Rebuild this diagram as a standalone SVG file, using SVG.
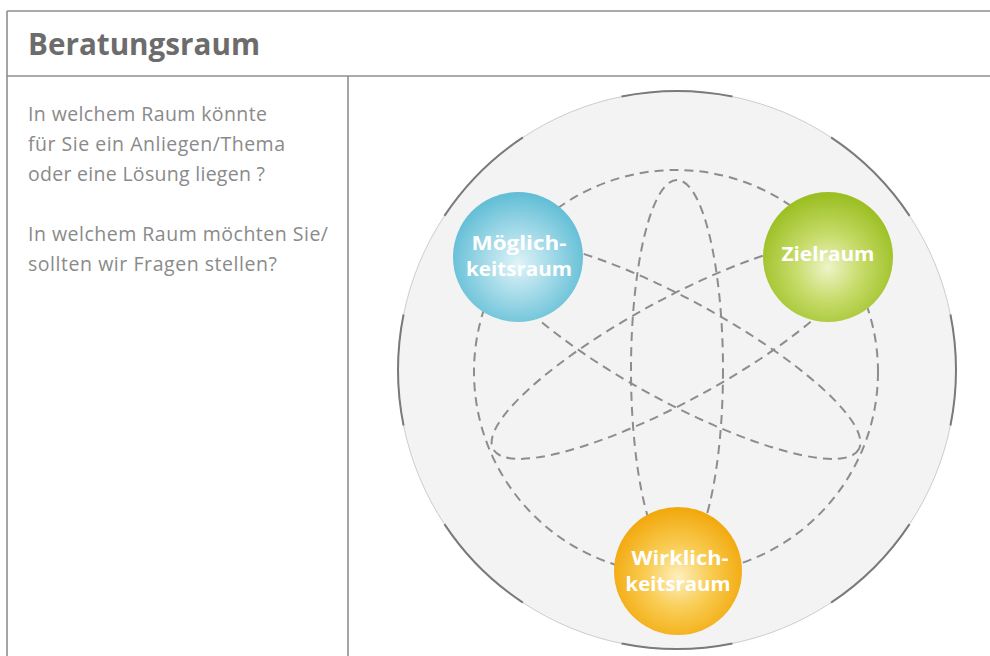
<svg xmlns="http://www.w3.org/2000/svg" width="990" height="656" viewBox="0 0 990 656">
  <defs>
    <radialGradient id="gBlue" cx="50%" cy="55%" r="55%">
      <stop offset="0" stop-color="#dff3f8"/>
      <stop offset="0.45" stop-color="#a6dbe9"/>
      <stop offset="1" stop-color="#5fbdd5"/>
    </radialGradient>
    <radialGradient id="gGreen" cx="50%" cy="58%" r="55%">
      <stop offset="0" stop-color="#eef4c8"/>
      <stop offset="0.45" stop-color="#c8dc6c"/>
      <stop offset="1" stop-color="#9cc024"/>
    </radialGradient>
    <radialGradient id="gOrange" cx="50%" cy="55%" r="55%">
      <stop offset="0" stop-color="#fdefc0"/>
      <stop offset="0.45" stop-color="#f9cd55"/>
      <stop offset="1" stop-color="#f2a70a"/>
    </radialGradient>
    <style>
      .frame { fill: none; stroke: #8e8e8e; stroke-width: 1.6; }
      .title { font-family: "Open Sans", "Liberation Sans", sans-serif; font-weight: 700; font-size: 31px; fill: #6c6c6c; }
      .body { font-family: "Open Sans", "Liberation Sans", sans-serif; font-size: 19.5px; fill: #8a8a8a; }
      .dash { fill: none; stroke: #8d8d8d; stroke-width: 2; stroke-dasharray: 9 6; }
      .label { font-family: "Open Sans", "Liberation Sans", sans-serif; font-weight: 700; font-size: 19px; fill: #ffffff; text-anchor: middle; }
    </style>
  </defs>

  <rect width="990" height="656" fill="#ffffff"/>

  <!-- table frame -->
  <g id="frame">
    <line class="frame" x1="7" y1="11" x2="990" y2="11"/>
    <line class="frame" x1="7" y1="11" x2="7" y2="656"/>
    <line class="frame" x1="7" y1="76" x2="990" y2="76"/>
    <line class="frame" x1="348" y1="76" x2="348" y2="656"/>
  </g>

  <text class="title" x="28" y="55" textLength="232" lengthAdjust="spacingAndGlyphs">Beratungsraum</text>

  <g id="questions">
    <text class="body" x="28" y="121" textLength="239" lengthAdjust="spacing">In welchem Raum könnte</text>
    <text class="body" x="28" y="151" textLength="257" lengthAdjust="spacing">für Sie ein Anliegen/Thema</text>
    <text class="body" x="28" y="181" textLength="237" lengthAdjust="spacing">oder eine Lösung liegen ?</text>
    <text class="body" x="28" y="241" textLength="300" lengthAdjust="spacing">In welchem Raum möchten Sie/</text>
    <text class="body" x="28" y="271" textLength="249" lengthAdjust="spacing">sollten wir Fragen stellen?</text>
  </g>

  <!-- outer sphere -->
  <g id="sphere">
    <circle cx="677" cy="370" r="279" fill="#f3f3f3" stroke="#cdcdcd" stroke-width="1"/>
    <circle cx="677" cy="370" r="279" fill="none" stroke="#7a7a7a" stroke-width="2"
            pathLength="800" stroke-dasharray="51 49" stroke-dashoffset="25.5"/>
  </g>

  <!-- dashed orbits -->
  <g id="connectors">
    <circle class="dash" cx="676" cy="372" r="202"/>
    <ellipse class="dash" cx="677" cy="370" rx="46" ry="190"/>
    <ellipse class="dash" cx="676" cy="350" rx="208" ry="51" transform="rotate(28.5 676 350)"/>
    <ellipse class="dash" cx="676" cy="350" rx="208" ry="51" transform="rotate(-28.5 676 350)"/>
  </g>

  <g id="moeglichkeitsraum">
    <circle cx="518" cy="257" r="65" fill="url(#gBlue)"/>
    <text class="label" x="519" y="250" textLength="95" lengthAdjust="spacingAndGlyphs">Möglich-</text>
    <text class="label" x="519" y="276" textLength="106" lengthAdjust="spacingAndGlyphs">keitsraum</text>
  </g>

  <g id="zielraum">
    <circle cx="828" cy="257" r="65" fill="url(#gGreen)"/>
    <text class="label" x="828" y="261" textLength="93" lengthAdjust="spacingAndGlyphs">Zielraum</text>
  </g>

  <g id="wirklichkeitsraum">
    <circle cx="678" cy="571" r="64" fill="url(#gOrange)"/>
    <text class="label" x="680" y="565" textLength="97" lengthAdjust="spacingAndGlyphs">Wirklich-</text>
    <text class="label" x="678" y="591" textLength="105" lengthAdjust="spacingAndGlyphs">keitsraum</text>
  </g>
</svg>
